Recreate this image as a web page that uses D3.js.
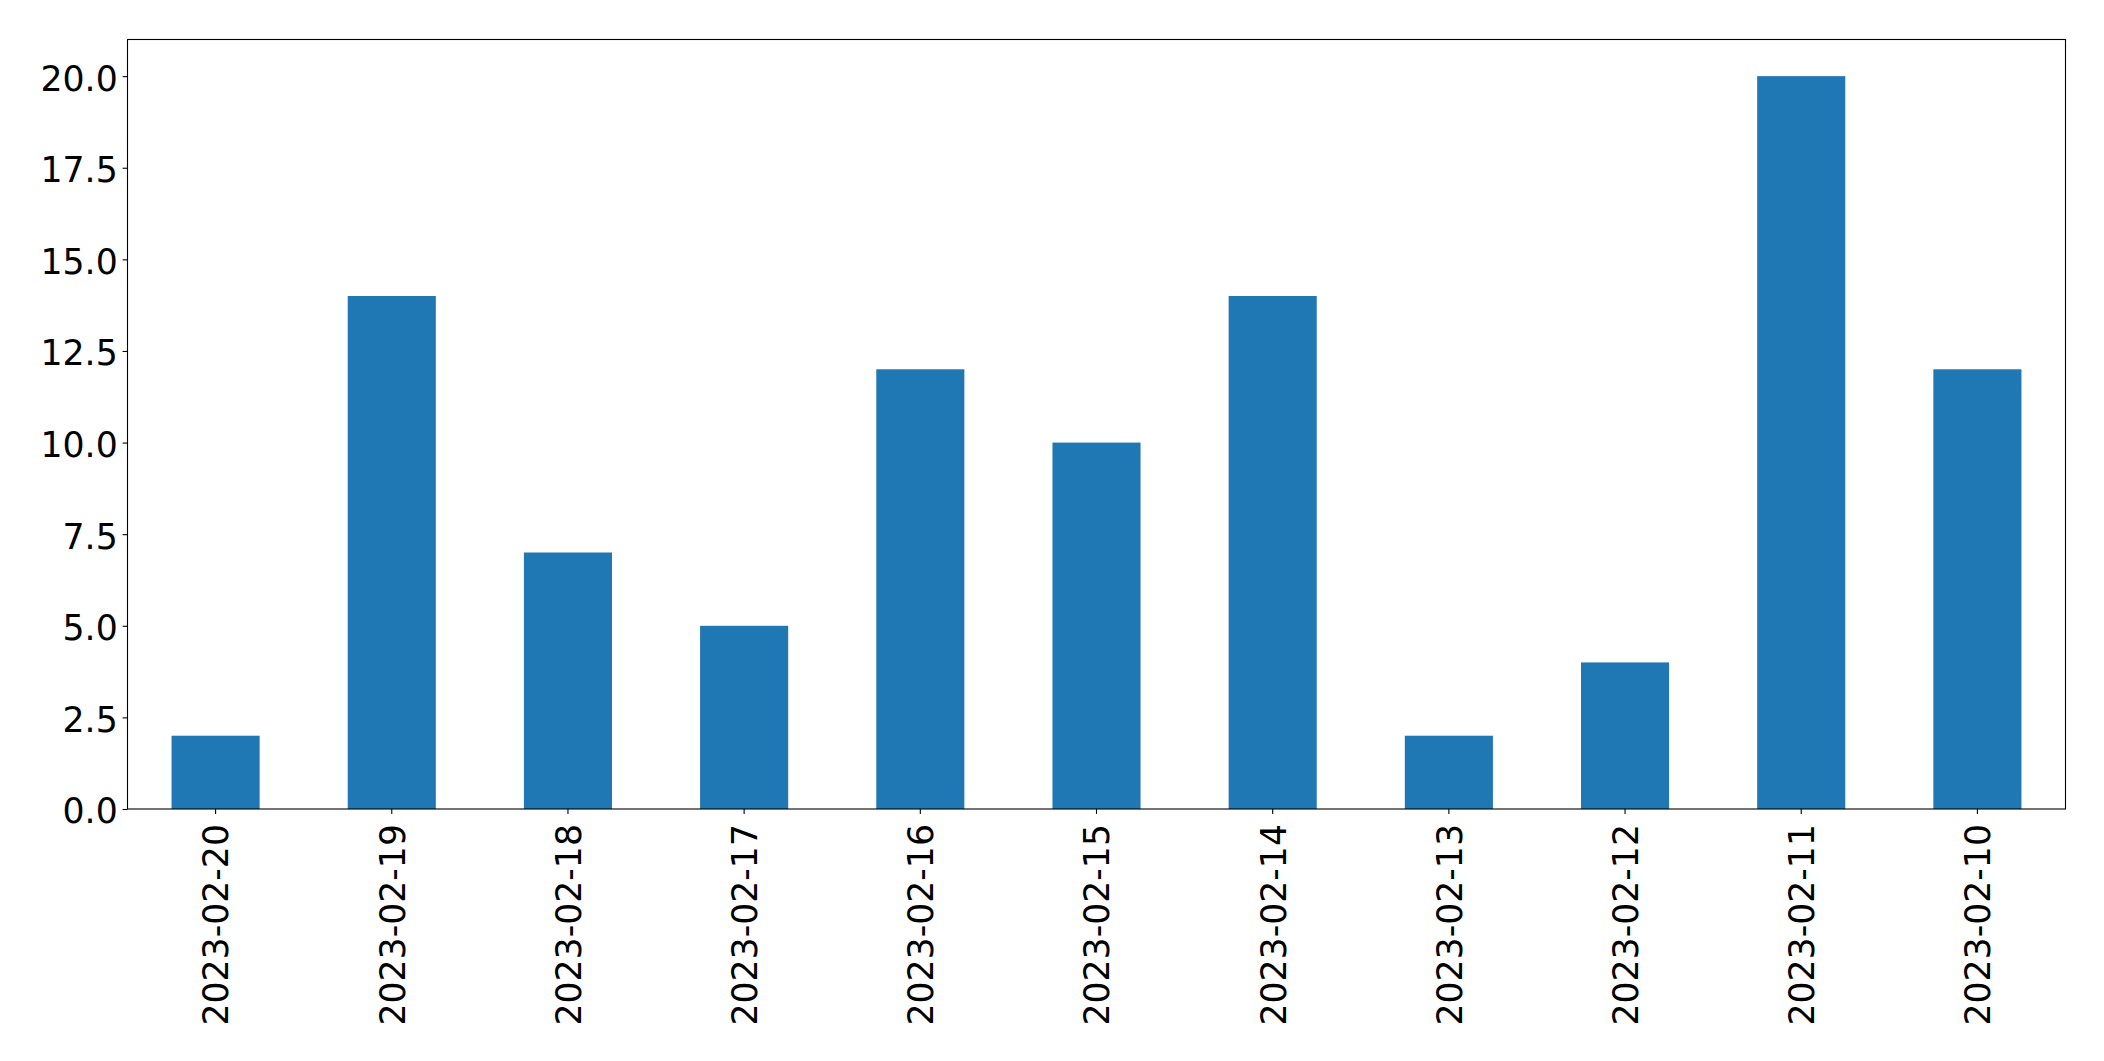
<!DOCTYPE html>
<html>
<head>
<meta charset="utf-8">
<script src="https://cdn.jsdelivr.net/npm/d3@7"></script>
<style>
html, body { margin: 0; padding: 0; background: #fff; }
svg { display: block; }
text { font-family: "DejaVu Sans", sans-serif; }
</style>
</head>
<body>
<script>
const categories = ["2023-02-20","2023-02-19","2023-02-18","2023-02-17","2023-02-16","2023-02-15","2023-02-14","2023-02-13","2023-02-12","2023-02-11","2023-02-10"];
const values = [2, 14, 7, 5, 12, 10, 14, 2, 4, 20, 12];
const yTicks = [0, 2.5, 5, 7.5, 10, 12.5, 15, 17.5, 20];

(function () {
const W = 2104, H = 1061;
const mLeft = 127.5, mRight = 2065.5, mTop = 39.5, mBottom = 809;
const svg = d3.select("body").append("svg").attr("width", W).attr("height", H);

const x = d3.scaleBand().domain(categories).range([mLeft, mRight]).paddingInner(0.5).paddingOuter(0.25);
const y = d3.scaleLinear().domain([0, 21]).range([mBottom, mTop]);

svg.append("g").selectAll("rect").data(values).join("rect")
  .attr("x", (d, i) => x(categories[i]))
  .attr("y", d => y(d))
  .attr("width", x.bandwidth())
  .attr("height", d => y(0) - y(d))
  .attr("fill", "#1f77b4");

const fs = 34.7;
const yAxis = svg.append("g").attr("transform", `translate(${mLeft},0)`)
  .call(d3.axisLeft(y).tickValues(yTicks).tickFormat(d3.format(".1f")).tickSize(4.9).tickPadding(4.9));
yAxis.select(".domain").remove();
yAxis.selectAll("text").attr("font-size", fs).attr("font-family", "DejaVu Sans").attr("fill", "#000").attr("dy", "0.4em");
yAxis.selectAll("line").attr("stroke", "#000").attr("stroke-width", 1.1);

const xAxis = svg.append("g").attr("transform", `translate(0,${mBottom})`)
  .call(d3.axisBottom(x).tickSize(4.9).tickPadding(0));
xAxis.select(".domain").remove();
xAxis.selectAll("line").attr("stroke", "#000").attr("stroke-width", 1.1);
xAxis.selectAll("text")
  .attr("font-size", fs).attr("font-family", "DejaVu Sans").attr("fill", "#000")
  .attr("text-anchor", "end")
  .attr("transform", "rotate(-90)")
  .attr("x", -15).attr("y", 0).attr("dy", "0.37em");

svg.append("rect").attr("x", mLeft).attr("y", mTop).attr("width", mRight - mLeft).attr("height", mBottom - mTop)
  .attr("fill", "none").attr("stroke", "#000").attr("stroke-width", 1.1);
})();
</script>
</body>
</html>
